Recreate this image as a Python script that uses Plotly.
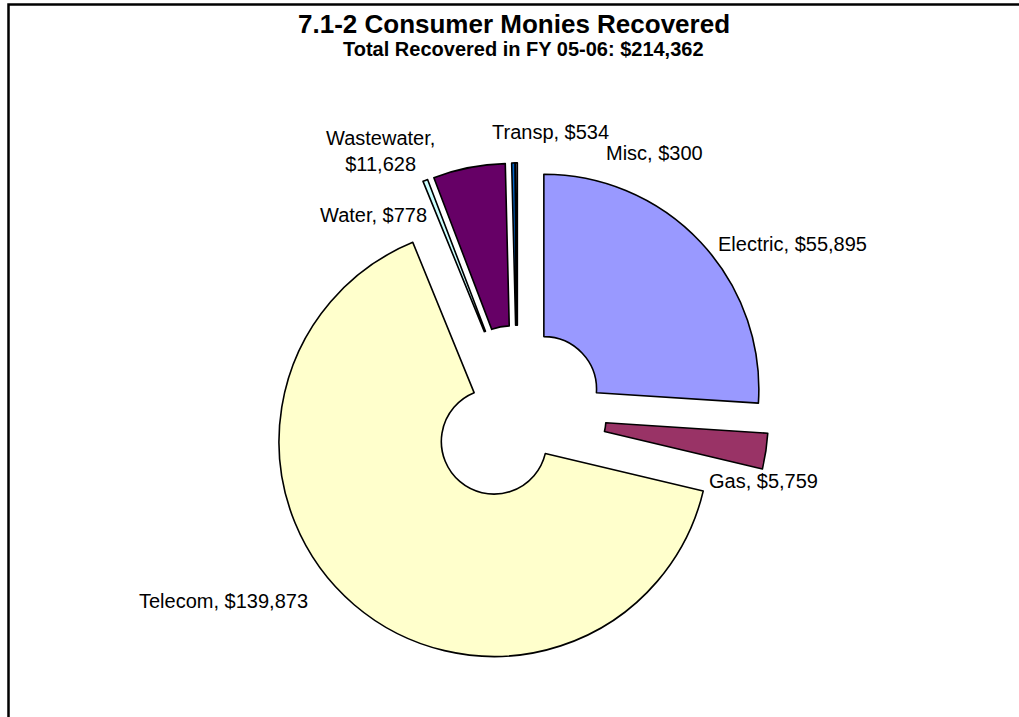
import plotly.graph_objects as go

# Consumer monies recovered by utility category (FY 05-06)
categories = ["Electric", "Gas", "Telecom", "Water", "Wastewater", "Transp", "Misc"]
amounts = [55895, 5759, 139873, 778, 11628, 534, 300]
slice_colors = ["#9999FF", "#993366", "#FFFFCC", "#CCFFFF", "#660066", "#0066CC", "#CCCCFF"]

chart_title = "7.1-2 Consumer Monies Recovered"
chart_subtitle = "Total Recovered in FY 05-06: $214,362"

W, H = 1019, 717

# geometry of the exploded ring (pixels)
cx, cy = 517.5, 414.0
radius = 215.0
pull = 0.168
half_box = radius * (1 + pull)

fig = go.Figure()
fig.add_trace(go.Pie(
    labels=categories,
    values=amounts,
    sort=False,
    direction="clockwise",
    rotation=0,
    hole=0.245,
    pull=[pull] * len(amounts),
    marker=dict(colors=slice_colors, line=dict(color="#000000", width=1.6)),
    textinfo="none",
    hoverinfo="label+value",
    showlegend=False,
    domain=dict(
        x=[(cx - half_box) / W, (cx + half_box) / W],
        y=[1 - (cy + half_box) / H, 1 - (cy - half_box) / H],
    ),
))


def px(x):
    return x / W


def py(y):
    return 1 - y / H


def label_text(name, sep=", "):
    i = categories.index(name)
    return f"{name}{sep}${amounts[i]:,}"


FONT = "Liberation Sans, Arial, sans-serif"

# data label placement: (category, x, y, anchor, separator)
label_spots = [
    ("Electric", 716, 244, "left", ", "),
    ("Gas", 707, 481, "left", ", "),
    ("Telecom", 137, 601, "left", ", "),
    ("Water", 318, 215, "left", ", "),
    ("Wastewater", 380, 151, "center", ",<br>"),
    ("Transp", 490, 132, "left", ", "),
    ("Misc", 604, 153, "left", ", "),
]

annotations = []
for name, x, y, anchor, sep in label_spots:
    annotations.append(dict(
        text=label_text(name, sep),
        x=px(x), y=py(y), xref="paper", yref="paper",
        xanchor=anchor, yanchor="middle", showarrow=False, align="center",
        font=dict(family=FONT, size=20, color="#000000"),
    ))

annotations.append(dict(
    text=f"<b>{chart_title}</b>", x=px(514), y=py(24), xref="paper", yref="paper",
    xanchor="center", yanchor="middle", showarrow=False,
    font=dict(family=FONT, size=26, color="#000000"),
))
annotations.append(dict(
    text=f"<b>{chart_subtitle}</b>", x=px(523), y=py(49), xref="paper", yref="paper",
    xanchor="center", yanchor="middle", showarrow=False,
    font=dict(family=FONT, size=20, color="#000000"),
))

fig.update_layout(
    width=W, height=H,
    margin=dict(l=0, r=0, t=0, b=0),
    paper_bgcolor="#FFFFFF",
    plot_bgcolor="#FFFFFF",
    annotations=annotations,
    shapes=[dict(
        type="rect", xref="paper", yref="paper",
        x0=px(8.5), x1=1.2, y0=-0.2, y1=py(4.5),
        line=dict(color="#000000", width=2.5), fillcolor="rgba(0,0,0,0)",
    )],
)

fig.write_html("out.html")
